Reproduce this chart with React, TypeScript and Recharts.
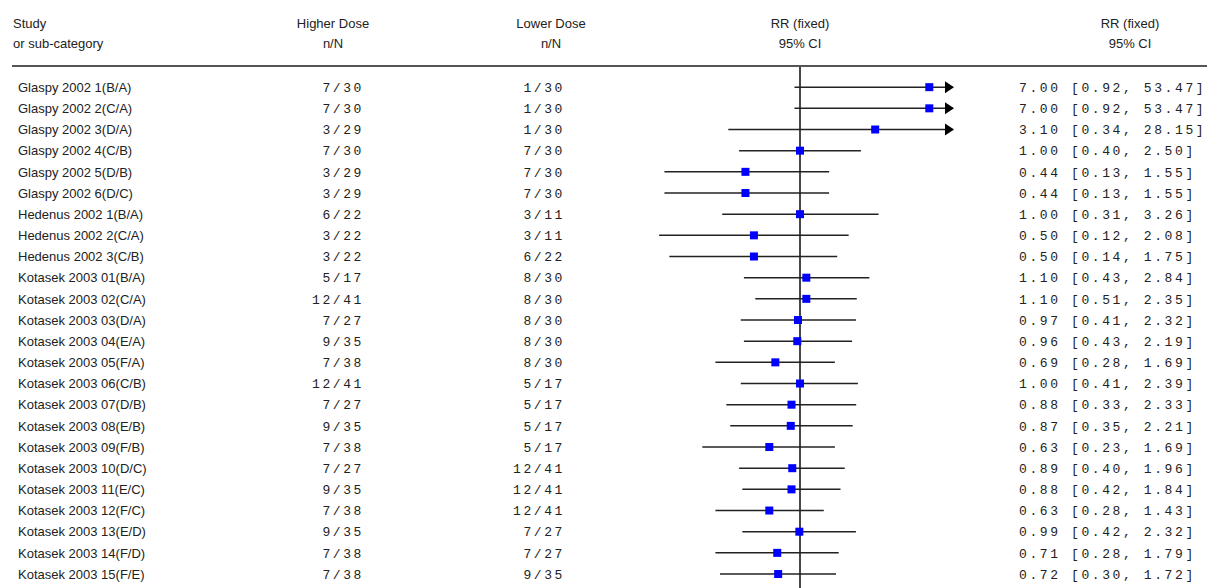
import React from "react";
import {
    ScatterChart, Scatter, XAxis, YAxis, ReferenceLine, ReferenceDot
} from "recharts";

const studies = [
    "Glaspy 2002 1(B/A)", "Glaspy 2002 2(C/A)", "Glaspy 2002 3(D/A)", "Glaspy 2002 4(C/B)",
    "Glaspy 2002 5(D/B)", "Glaspy 2002 6(D/C)", "Hedenus 2002 1(B/A)", "Hedenus 2002 2(C/A)",
    "Hedenus 2002 3(C/B)", "Kotasek 2003 01(B/A)", "Kotasek 2003 02(C/A)", "Kotasek 2003 03(D/A)",
    "Kotasek 2003 04(E/A)", "Kotasek 2003 05(F/A)", "Kotasek 2003 06(C/B)", "Kotasek 2003 07(D/B)",
    "Kotasek 2003 08(E/B)", "Kotasek 2003 09(F/B)", "Kotasek 2003 10(D/C)", "Kotasek 2003 11(E/C)",
    "Kotasek 2003 12(F/C)", "Kotasek 2003 13(E/D)", "Kotasek 2003 14(F/D)", "Kotasek 2003 15(F/E)",
];

const higherDose = [
    "7/30", "7/30", "3/29", "7/30", "3/29", "3/29", "6/22", "3/22", "3/22", "5/17", "12/41", "7/27",
    "9/35", "7/38", "12/41", "7/27", "9/35", "7/38", "7/27", "9/35", "7/38", "9/35", "7/38", "7/38",
];

const lowerDose = [
    "1/30", "1/30", "1/30", "7/30", "7/30", "7/30", "3/11", "3/11", "6/22", "8/30", "8/30", "8/30",
    "8/30", "8/30", "5/17", "5/17", "5/17", "5/17", "12/41", "12/41", "12/41", "7/27", "7/27", "9/35",
];

const rr = [
    7.00, 7.00, 3.10, 1.00, 0.44, 0.44, 1.00, 0.50, 0.50, 1.10, 1.10, 0.97,
    0.96, 0.69, 1.00, 0.88, 0.87, 0.63, 0.89, 0.88, 0.63, 0.99, 0.71, 0.72,
];

const ciLow = [
    0.92, 0.92, 0.34, 0.40, 0.13, 0.13, 0.31, 0.12, 0.14, 0.43, 0.51, 0.41,
    0.43, 0.28, 0.41, 0.33, 0.35, 0.23, 0.40, 0.42, 0.28, 0.42, 0.28, 0.30,
];

const ciHigh = [
    53.47, 53.47, 28.15, 2.50, 1.55, 1.55, 3.26, 2.08, 1.75, 2.84, 2.35, 2.32,
    2.19, 1.69, 2.39, 2.33, 2.21, 1.69, 1.96, 1.84, 1.43, 2.32, 1.79, 1.72,
];

const X_MIN = 0.1;
const X_MAX = 10;

const rows = studies.map((s, i) => ({ row: i, rr: rr[i], lo: ciLow[i], hi: ciHigh[i] }));
const fmt = (v: number) => v.toFixed(2);

const sans = "'Liberation Sans', Arial, sans-serif";
const mono = "'Liberation Mono', 'Courier New', monospace";
const ink = "#222";

function RowTick(props: any) {
    const { y, payload } = props;
    const i = payload.value;
    const monoStyle = { fontFamily: mono, fontSize: 13, letterSpacing: "2.6px" };
    return (
        <g>
            <text x={364} y={y} dy="0.36em" fill={ink} textAnchor="end" style={monoStyle}>{higherDose[i]}</text>
            <text x={565} y={y} dy="0.36em" fill={ink} textAnchor="end" style={monoStyle}>{lowerDose[i]}</text>
            <text x={1019} y={y} dy="0.36em" fill={ink} style={monoStyle}>
                {`${fmt(rr[i])} [${fmt(ciLow[i])}, ${fmt(ciHigh[i])}]`}
            </text>
            <text x={18} y={y} dy="0.36em" fill={ink} fontFamily={sans} fontSize={13}>{studies[i]}</text>
        </g>
    );
}

const Box = (props: any) => {
    const { cx, cy } = props;
    return <rect x={cx - 4} y={cy - 4} width={8} height={8} fill="#0000ff" />;
};

const Arrow = (props: any) => {
    const { cx, cy } = props;
    return <polygon points={`${cx - 8},${cy - 6} ${cx + 1},${cy} ${cx - 8},${cy + 6}`} fill="#000" />;
};

export default function App() {
    return (
        <div style={{ position: "fixed", left: 0, top: 0, width: 1207, height: 588, background: "#fff" }}>
            <ScatterChart width={1207} height={588} margin={{ top: 66, right: 254, left: 0, bottom: 0 }}>
                <XAxis type="number" dataKey="rr" scale="log" domain={[X_MIN, X_MAX]} allowDataOverflow hide />
                <YAxis
                    type="number"
                    dataKey="row"
                    domain={[-1, 23.66]}
                    reversed
                    ticks={rows.map((r) => r.row)}
                    interval={0}
                    width={647}
                    axisLine={false}
                    tickLine={false}
                    tick={<RowTick />}
                    allowDataOverflow
                />
                <ReferenceLine x={1} stroke="#333" strokeWidth={1.8} />
                {rows.map((r) => (
                    <ReferenceLine
                        key={"ci" + r.row}
                        segment={[{ x: r.lo, y: r.row }, { x: Math.min(r.hi, X_MAX), y: r.row }]}
                        stroke="#222"
                        strokeWidth={1.5}
                    />
                ))}
                {rows.filter((r) => r.hi > X_MAX).map((r) => (
                    <ReferenceDot key={"ar" + r.row} x={X_MAX} y={r.row} r={0} shape={<Arrow />} ifOverflow="visible" />
                ))}
                <Scatter data={rows} shape={<Box />} isAnimationActive={false} />
            </ScatterChart>
            <svg width={1207} height={588} style={{ position: "absolute", left: 0, top: 0, pointerEvents: "none" }}>
                <g fill={ink} fontFamily={sans} fontSize={13}>
                    <text x={13} y={28}>Study</text>
                    <text x={13} y={48}>or sub-category</text>
                    <text x={333} y={28} textAnchor="middle">Higher Dose</text>
                    <text x={333} y={48} textAnchor="middle">n/N</text>
                    <text x={551} y={28} textAnchor="middle">Lower Dose</text>
                    <text x={551} y={48} textAnchor="middle">n/N</text>
                    <text x={800} y={28} textAnchor="middle">RR (fixed)</text>
                    <text x={800} y={48} textAnchor="middle">95% CI</text>
                    <text x={1130} y={28} textAnchor="middle">RR (fixed)</text>
                    <text x={1130} y={48} textAnchor="middle">95% CI</text>
                </g>
                <line x1={12} x2={1207} y1={66} y2={66} stroke="#555" strokeWidth={2} />
            </svg>
        </div>
    );
}
